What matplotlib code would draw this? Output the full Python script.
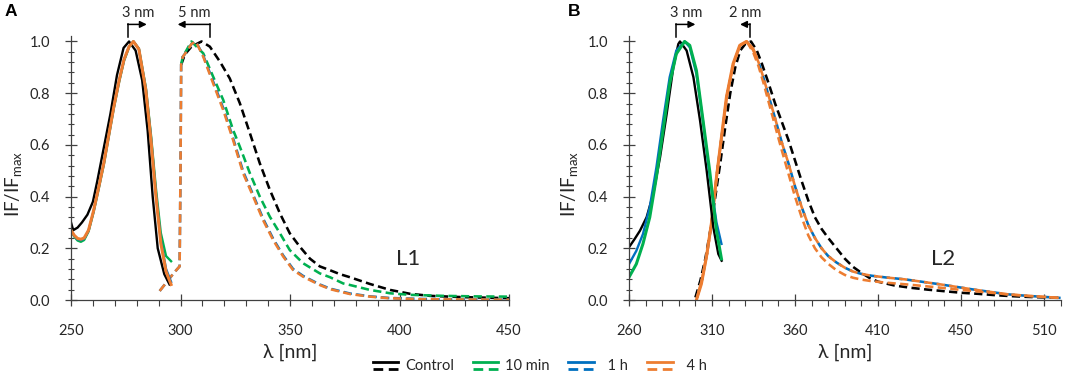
import matplotlib
matplotlib.use("Agg")
import matplotlib.pyplot as plt
from matplotlib.lines import Line2D
from matplotlib.legend_handler import HandlerBase

plt.rcParams['font.family'] = ['Lato', 'DejaVu Sans']
plt.rcParams['mathtext.fontset'] = 'custom'
plt.rcParams['mathtext.rm'] = 'Lato'
plt.rcParams['mathtext.it'] = 'Lato:italic'

BLACK = '#000000'
GREEN = '#00B050'
BLUE = '#0070C0'
ORANGE = '#ED7D31'
AXC = '#404040'

# ---------------- Panel A (L1) ----------------
a_ex_ctrl_x = [250, 251, 253, 255, 257.5, 260, 262, 265, 268, 271, 274, 276.5, 279.5, 282.5, 285, 287.3, 289.6, 292.6, 295]
a_ex_ctrl_y = [0.30, 0.27, 0.28, 0.30, 0.33, 0.38, 0.46, 0.59, 0.72, 0.87, 0.975, 1.0, 0.965, 0.85, 0.655, 0.40, 0.20, 0.10, 0.06]

a_ex_x = [250, 251.5, 253, 254.5, 256, 258, 260.3, 262.5, 265, 267.5, 269.5, 272, 274.2, 276.5, 278.5, 281, 284.2, 286.5, 288.8, 291, 293.4, 295.7]
a_ex_10m = [0.27, 0.245, 0.23, 0.225, 0.232, 0.265, 0.34, 0.425, 0.525, 0.645, 0.74, 0.845, 0.925, 0.978, 1.0, 0.972, 0.82, 0.64, 0.43, 0.26, 0.17, 0.15]
a_ex_1h = [0.27, 0.248, 0.235, 0.232, 0.237, 0.268, 0.343, 0.428, 0.528, 0.648, 0.743, 0.848, 0.928, 0.98, 1.0, 0.971, 0.815, 0.63, 0.41, 0.23, 0.12, 0.07]
a_ex_4h = [0.27, 0.25, 0.238, 0.235, 0.24, 0.27, 0.345, 0.43, 0.53, 0.65, 0.745, 0.85, 0.93, 0.98, 1.0, 0.97, 0.81, 0.62, 0.40, 0.22, 0.11, 0.06]

a_em_ctrl_x = [300.3, 302, 305, 309.6, 313.4, 318, 322.5, 327.1, 331.7, 336.2, 340.8, 345.4, 349.9, 354.5, 359.1, 363.6, 368.3, 372.8, 377.4, 386.5, 395.7, 404.8, 413.9, 429.1, 450]
a_em_ctrl_y = [0.91, 0.95, 0.98, 1.0, 0.98, 0.922, 0.857, 0.761, 0.645, 0.529, 0.426, 0.335, 0.258, 0.206, 0.16, 0.13, 0.115, 0.10, 0.088, 0.062, 0.039, 0.024, 0.016, 0.011, 0.007]

a_em_10m_x = [300.3, 301, 303, 305, 310.4, 314.9, 319.5, 324, 327.1, 331.7, 336.2, 340.8, 345.4, 349.9, 356, 363.6, 368.3, 374.3, 377.4, 386.5, 395.7, 404.8, 420, 435, 450]
a_em_10m_y = [0.91, 0.94, 0.97, 1.0, 0.954, 0.864, 0.774, 0.658, 0.593, 0.49, 0.40, 0.322, 0.258, 0.193, 0.142, 0.103, 0.088, 0.064, 0.058, 0.039, 0.026, 0.02, 0.016, 0.014, 0.013]

a_em_x = [290.5, 297, 299.6, 300, 300.3, 301, 302.7, 305, 307, 310.4, 314.9, 319.5, 324, 328.6, 333.2, 337.7, 342.3, 346.9, 351.4, 356, 363.6, 368.3, 374, 377.4, 386.5, 395, 410, 430, 450]
a_em_1h = [0.035, 0.105, 0.13, 0.5, 0.91, 0.94, 0.96, 0.99, 1.0, 0.945, 0.845, 0.742, 0.626, 0.497, 0.406, 0.315, 0.237, 0.172, 0.12, 0.093, 0.06, 0.044, 0.032, 0.025, 0.014, 0.008, 0.004, 0.002, 0.001]
a_em_4h = [0.035, 0.105, 0.13, 0.5, 0.91, 0.94, 0.96, 0.99, 1.0, 0.941, 0.838, 0.735, 0.619, 0.49, 0.40, 0.309, 0.232, 0.168, 0.116, 0.09, 0.058, 0.042, 0.03, 0.023, 0.013, 0.007, 0.003, 0.002, 0.001]

# ---------------- Panel B (L2) ----------------
b_ex_ctrl_x = [260, 263.4, 266.6, 270.6, 274.6, 278.7, 282.7, 286.7, 289.7, 290.7, 294.7, 298.8, 302.8, 306.8, 310.8, 313.8, 315.8]
b_ex_ctrl_y = [0.204, 0.236, 0.268, 0.32, 0.41, 0.552, 0.72, 0.90, 0.99, 1.0, 0.965, 0.862, 0.694, 0.50, 0.281, 0.178, 0.152]

b_ex_x = [260, 264.4, 268.4, 272.5, 276.5, 280.5, 284.5, 288.5, 293.5, 296.6, 300.6, 304.6, 308.6, 312.7, 315.7]
b_ex_10m = [0.088, 0.139, 0.217, 0.32, 0.475, 0.655, 0.836, 0.952, 1.0, 0.985, 0.888, 0.694, 0.50, 0.268, 0.159]
b_ex_1h = [0.139, 0.19, 0.255, 0.359, 0.513, 0.694, 0.862, 0.965, 1.0, 0.978, 0.875, 0.69, 0.48, 0.30, 0.217]

b_em_ctrl_x = [300, 303, 306, 309, 312, 315, 318, 321, 324, 327, 330, 333.5, 337, 340, 344, 348, 352, 356, 360, 364, 368, 372, 376, 380, 385, 390, 395, 400, 405, 410, 420, 430, 440, 450, 460, 470, 480, 490, 500, 510, 520]
b_em_ctrl_y = [0.01, 0.075, 0.16, 0.27, 0.40, 0.53, 0.67, 0.80, 0.90, 0.965, 0.99, 1.0, 0.965, 0.915, 0.84, 0.76, 0.69, 0.62, 0.54, 0.46, 0.385, 0.32, 0.275, 0.24, 0.20, 0.16, 0.128, 0.105, 0.085, 0.071, 0.056, 0.047, 0.04, 0.034, 0.028, 0.024, 0.019, 0.015, 0.012, 0.01, 0.008]

b_em_rise_x = [300.6, 303.6, 306.6, 309.6, 312.7, 315.7, 318.7, 322.7, 326.7, 330.7, 334.7, 336.7]
b_em_rise_y = [0.0, 0.062, 0.165, 0.294, 0.475, 0.63, 0.785, 0.914, 0.985, 1.0, 0.972, 0.94]

b_em_x = [301, 304, 307, 310, 313, 316, 319, 323, 327, 331, 335, 338, 341, 345, 349, 352, 356, 360, 364, 368, 372, 376, 380, 385, 390, 395, 400, 406, 415, 426, 436, 447, 457, 467, 478, 488, 500, 510, 520]
b_em_1h = [0.01, 0.08, 0.18, 0.31, 0.49, 0.64, 0.79, 0.915, 0.985, 1.0, 0.965, 0.92, 0.86, 0.77, 0.68, 0.61, 0.53, 0.44, 0.36, 0.29, 0.24, 0.2, 0.17, 0.145, 0.125, 0.11, 0.101, 0.094, 0.087, 0.08, 0.071, 0.061, 0.051, 0.041, 0.031, 0.022, 0.016, 0.012, 0.008]
b_em_4h_low = [0.01, 0.08, 0.18, 0.31, 0.49, 0.64, 0.79, 0.915, 0.985, 1.0, 0.955, 0.905, 0.84, 0.745, 0.65, 0.58, 0.49, 0.40, 0.32, 0.25, 0.2, 0.165, 0.14, 0.115, 0.097, 0.086, 0.079, 0.073, 0.067, 0.061, 0.055, 0.048, 0.041, 0.035, 0.028, 0.022, 0.016, 0.012, 0.008]

b_xticks = [260, 310, 360, 410, 460, 510]
b_xticklabels = ['260', '310', '360', '410', '450', '510']

legend_labels = ['Control', '10 min', '  1 h', '  4 h']
legend_colors = [BLACK, GREEN, BLUE, ORANGE]

SOLID = 1.7
DASH = dict(lw=1.85, dashes=(3.2, 1.7))

fig = plt.figure(figsize=(10.65, 3.76), dpi=100)
axA = fig.add_axes([71 / 1065, 76 / 376, 438 / 1065, 263.7 / 376])
axB = fig.add_axes([629 / 1065, 76 / 376, 431.6 / 1065, 263.7 / 376])

# panel A curves
axA.plot(a_em_ctrl_x, a_em_ctrl_y, color=BLACK, **DASH)
axA.plot(a_em_10m_x, a_em_10m_y, color=GREEN, **DASH)
axA.plot(a_em_x, a_em_1h, color=BLUE, **DASH)
axA.plot(a_em_x, a_em_4h, color=ORANGE, **DASH)
axA.plot(a_ex_ctrl_x, a_ex_ctrl_y, color=BLACK, lw=SOLID)
axA.plot(a_ex_x, a_ex_10m, color=GREEN, lw=SOLID)
axA.plot(a_ex_x, a_ex_1h, color=BLUE, lw=SOLID)
axA.plot(a_ex_x, a_ex_4h, color=ORANGE, lw=2.2)

# panel B curves
axB.plot(b_em_ctrl_x, b_em_ctrl_y, color=BLACK, **DASH)
axB.plot(b_em_x, b_em_1h, color=BLUE, **DASH)
axB.plot(b_em_x, b_em_1h, color=ORANGE, lw=1.85, linestyle=(3.0, (3.2, 1.7)))
axB.plot(b_em_x, b_em_4h_low, color=ORANGE, **DASH)
axB.plot(b_em_rise_x, b_em_rise_y, color=ORANGE, lw=2.2)
axB.plot(b_ex_ctrl_x, b_ex_ctrl_y, color=BLACK, lw=SOLID)
axB.plot(b_ex_x, b_ex_1h, color=BLUE, lw=SOLID)
axB.plot(b_ex_x, b_ex_10m, color=GREEN, lw=2.2)

for ax in (axA, axB):
    ax.set_ylim(0, 1.02)
    ax.set_yticks([0, 0.2, 0.4, 0.6, 0.8, 1.0])
    ax.set_yticklabels(['0.0', '0.2', '0.4', '0.6', '0.8', '1.0'])
    ax.set_yticks([i * 0.04 for i in range(26)], minor=True)
    for s in ('top', 'right'):
        ax.spines[s].set_visible(False)
    for s in ('left', 'bottom'):
        ax.spines[s].set_color(AXC)
        ax.spines[s].set_linewidth(0.9)
    ax.tick_params(axis='both', which='major', direction='inout', length=8, width=0.9,
                   color=AXC, labelsize=10.5, labelcolor='#262626')
    ax.tick_params(axis='y', which='minor', direction='inout', length=5, width=0.8, color=AXC)
    ax.tick_params(axis='x', which='minor', direction='out', length=4, width=0.8, color=AXC)
    ax.tick_params(axis='x', which='major', pad=13)
    ax.tick_params(axis='y', which='major', pad=11)
    ax.set_xlabel('λ [nm]', fontsize=14, color='#262626', va='top')
    ax.set_ylabel(r'IF/IF$_{\mathrm{max}}$', fontsize=13.5, color='#262626', va='center')
    ax.xaxis.set_label_coords(0.5, -0.165)

axA.set_xlim(250, 450)
axA.set_xticks([250, 300, 350, 400, 450])
axA.set_xticks(range(250, 451, 10), minor=True)
axA.yaxis.set_label_coords(-0.131, 0.44)

axB.set_xlim(260, 520)
axB.set_xticks(b_xticks)
axB.set_xticklabels(b_xticklabels)
axB.set_xticks(range(260, 521, 10), minor=True)
axB.yaxis.set_label_coords(-0.137, 0.44)

# L1 / L2 labels
axA.text(404, 0.16, 'L1', fontsize=16, ha='center', va='center', color='#262626')
axB.text(449, 0.16, 'L2', fontsize=16, ha='center', va='center', color='#262626')


def shift_arrow(ax, x0, x1, label, tx):
    ax.plot([x0, x0], [1.018, 1.066], color=BLACK, lw=1.1, clip_on=False)
    ax.annotate('', xy=(x1, 1.066), xytext=(x0, 1.066), annotation_clip=False,
                arrowprops=dict(arrowstyle='-|>', color=BLACK, lw=1.1,
                                shrinkA=0, shrinkB=0, mutation_scale=10))
    ax.text(tx, 1.112, label, fontsize=10.5, ha='center', va='center',
            color='#262626', clip_on=False)


shift_arrow(axA, 275.9, 284.6, '3 nm', 280.6)
shift_arrow(axA, 313.5, 298.7, '5 nm', 306.2)
shift_arrow(axB, 288.3, 300.0, '3 nm', 294.3)
shift_arrow(axB, 332.9, 326.9, '2 nm', 329.9)

fig.text(5 / 1065, 1 - 4 / 376, 'A', fontsize=12.5, fontweight='bold',
         family='Liberation Sans', va='top', ha='left')
fig.text(568 / 1065, 1 - 4 / 376, 'B', fontsize=12.5, fontweight='bold',
         family='Liberation Sans', va='top', ha='left')


class SolidDashHandler(HandlerBase):
    def create_artists(self, legend, orig_handle, xdescent, ydescent,
                       width, height, fontsize, trans):
        c = orig_handle.get_color()
        top = Line2D([xdescent, xdescent + width], [height * 0.8 - ydescent] * 2,
                     color=c, lw=2.0, transform=trans)
        bot = Line2D([xdescent, xdescent + width], [height * 0.05 - ydescent] * 2,
                     color=c, lw=2.0, dashes=(3.5, 2), transform=trans)
        return [top, bot]


proxies = [Line2D([], [], color=c) for c in legend_colors]
fig.legend(proxies, legend_labels, handler_map={Line2D: SolidDashHandler()},
           ncol=4, loc='center', bbox_to_anchor=(540 / 1065, 1 - 366 / 376),
           frameon=False, fontsize=10.5, handlelength=1.75, handletextpad=0.45,
           columnspacing=1.3, labelcolor='#262626')

fig.savefig('out.png', dpi=100)
